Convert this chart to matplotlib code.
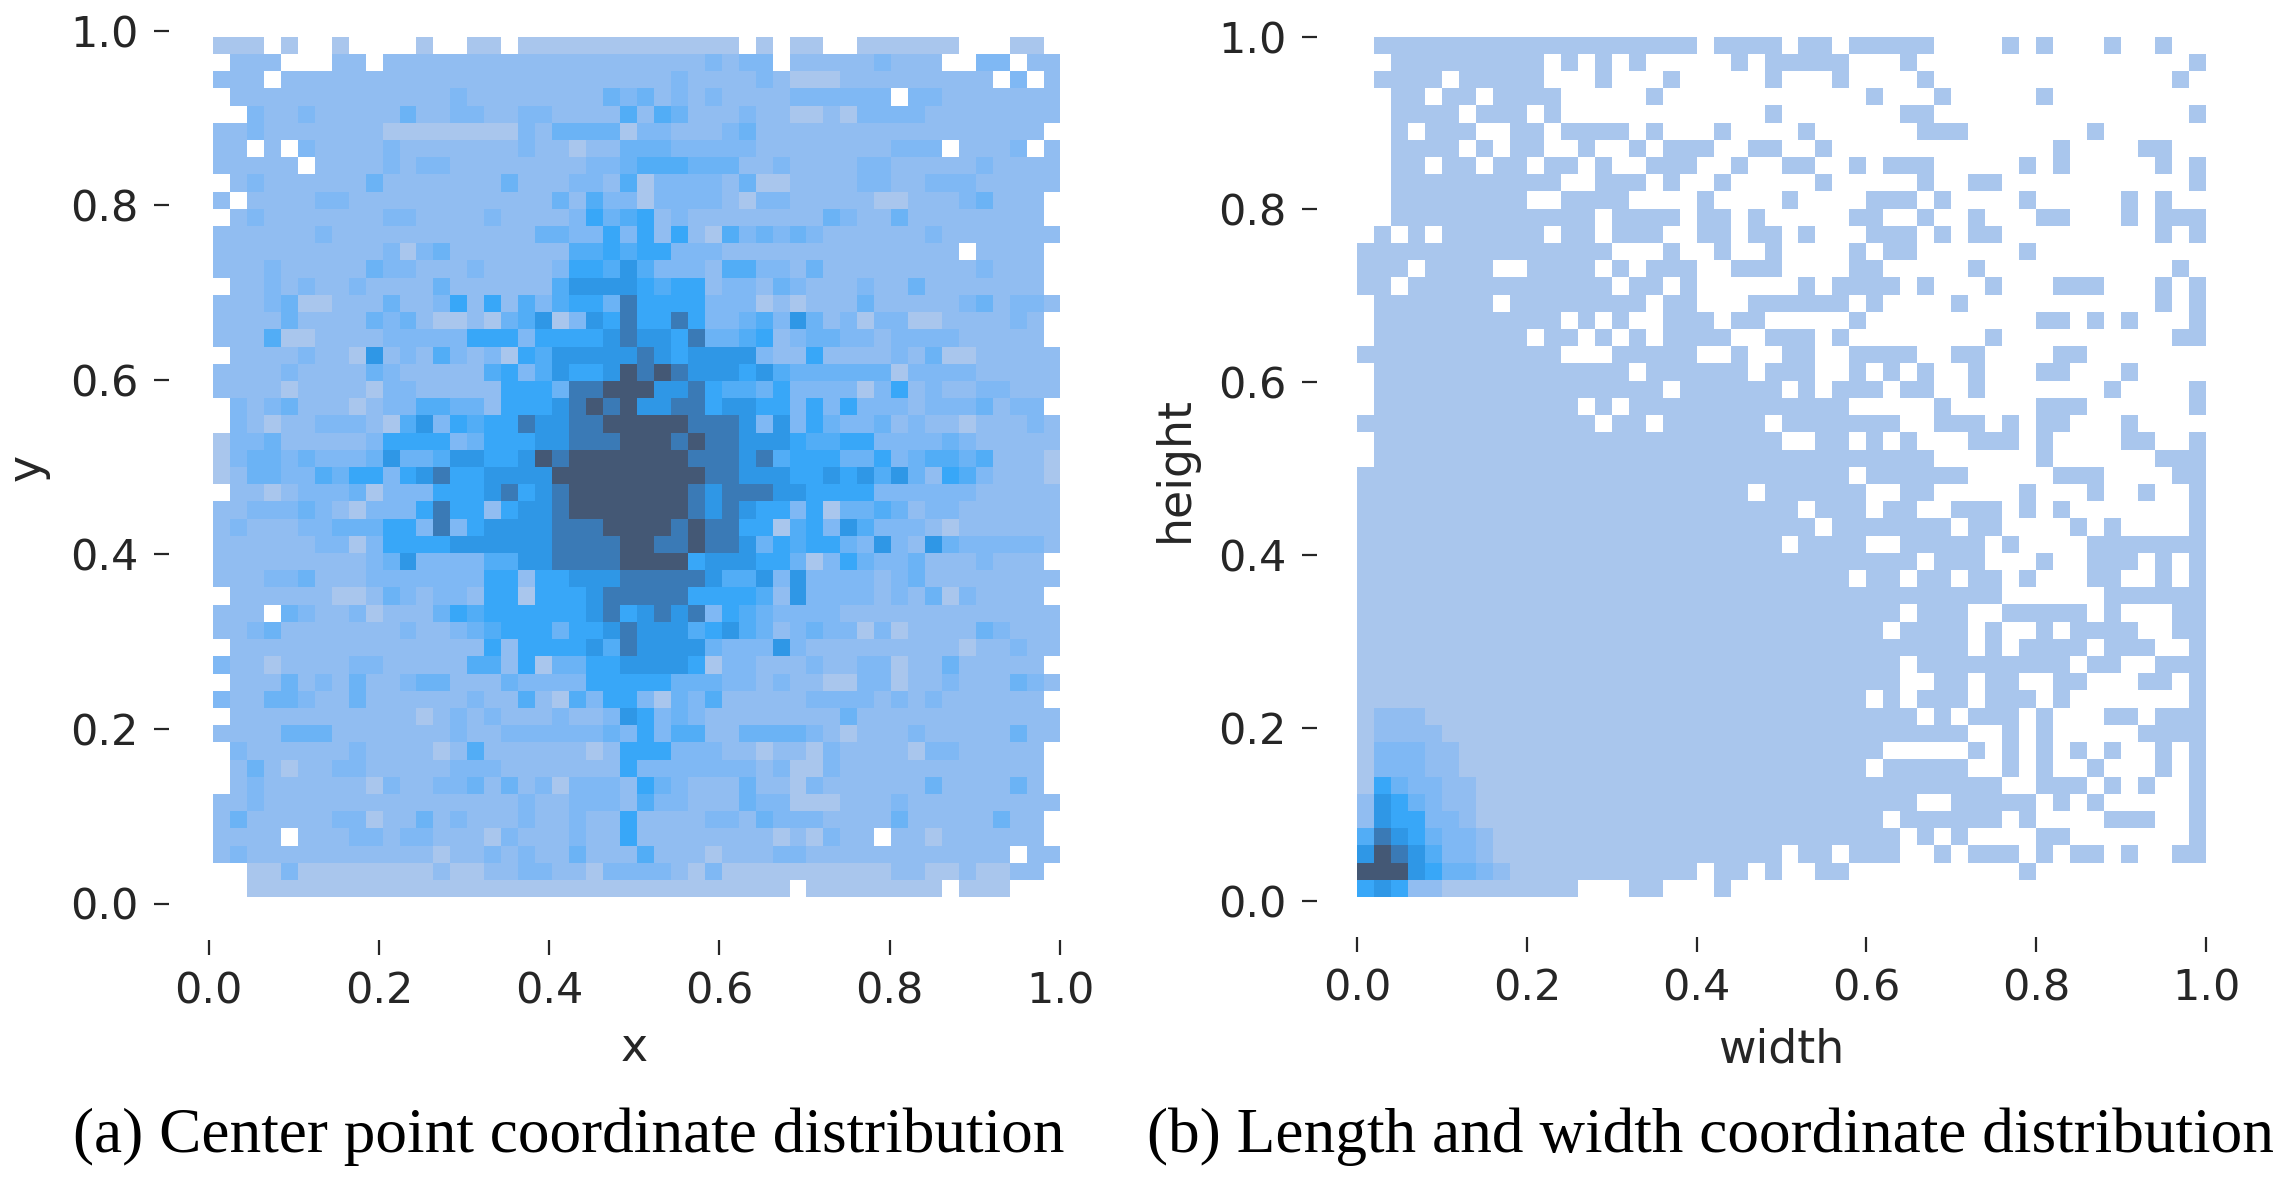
import numpy as np
import matplotlib
matplotlib.use("Agg")
import matplotlib.pyplot as plt
from matplotlib.colors import ListedColormap, BoundaryNorm

# Relative density level per histogram bin (0 = empty), top row first.
CENTER_LEVELS = [
"11101001000010011011111111 111110101100111111000110",
"02220002202222222222222222 222323302222232220033022",
"22202222222222222222222222 232222321112222222220302",
"02222222222222322222222434 232322223333330332222222",
"00322322222422332233222252 542223221121333322222222",
"22322222221111111132444413 322234222222222222222220",
"22020322223222222232212244 433333222222223330222302",
"22222022223233222222223345 554442232222332222232222",
"02322222242222222422233251 333324112222332233322222",
"20222233222222222222425331 333321332222211222342220",
"02322222223322223222236456 232222222243224222222220",
"22222232222222222224433636 262153434322222232222222",
"22222222223134222222255656 633322222222222222022220",
"22232222243322232222366575 333255332422222222232220",
"02232322322224222222577776 566233243222322422222220",
"22234112224223626253566486 666333121222422222342332",
"22224222243421121457137686 686334537423133112222320",
"22251122223333366636666787 768445623443323333222220",
"02222322172325323165777778 767777322622223241122222",
"22223222243222225635766798 987776754444441333322222",
"22221222213322222666488999 778655463333136232233222",
"03234222123355442666789897 788677663636333233342330",
"03212233321573656687788999 998887373643342322122232",
"13342222236666346667788899 989887776556633334322222",
"13443433347445776679899999 998887856664463455452221",
"12443354663678667777999999 999887776676757426532221",
"02212333413336667867899999 998788877666633333322222",
"22333432133368662677899999 998787663614454233222222",
"23222334446638367777888999 989886615637533321222222",
"22222233136666777777888899 889887465664373274333332",
"22222222234733335577888899 996777664136433422232220",
"22233422233333336626677788 888755737333323422222222",
"02222221124323326616667888 886666527333323241322220",
"22204322312224656666667867 878365433332222222222222",
"22342222222322345666466787 775675423433131222243222",
"02222222222222226266667587 777433373222222222122322",
"32212222332222255261446677 776133222322331224222220",
"02224232422344222433336666 644433232211331223222432",
"32244322422222232252153663 143522222333323232222220",
"02222222222212323222322376 343222222224222222222222",
"22224442222222322333333436 355224444321222322222422",
"03222222322221252222221266 633322122132222133222220",
"02421223322222333222222263 333333231132222222222220",
"02322222213223342423133326 432224221322222242222420",
"22322222222222222232233325 332224331112223222222222",
"24222223312242322232232262 222332433322224222224220",
"22220222332332221322232262 222222212132202212222220",
"23222222222221223232242225 222122233222222222222022",
"00113111111112112233221333 321311111111112211211220",
"00111111111111111111111111 111111110111111110111000",
]

# Occupied width bins (inclusive first, last) for each height row, top row first.
SIZE_OCCUPIED = [
[(1,19),(21,24),(26,27),(29,33),(38,38),(40,40),(44,44),(47,47)],
[(2,10),(12,12),(14,14),(16,16),(22,22),(24,28),(32,32),(49,49)],
[(1,4),(6,10),(14,14),(18,18),(24,24),(28,28),(33,33),(48,48)],
[(2,3),(5,6),(8,11),(17,17),(30,30),(34,34),(40,40)],
[(2,5),(7,9),(11,11),(24,24),(32,33),(49,49)],
[(2,2),(4,6),(9,10),(12,15),(17,17),(21,21),(26,26),(33,35),(43,43)],
[(2,5),(7,7),(9,10),(13,13),(16,16),(18,20),(23,24),(27,27),(41,41),(46,47)],
[(2,3),(5,6),(8,9),(11,12),(14,14),(17,19),(22,22),(25,26),(29,29),(31,33),(39,39),(41,41),(47,47),(49,49)],
[(2,11),(14,16),(18,18),(21,21),(27,27),(33,33),(36,37),(49,49)],
[(2,9),(12,15),(20,20),(25,25),(30,32),(34,34),(39,39),(45,45),(47,47)],
[(2,13),(15,18),(20,21),(23,23),(29,30),(33,33),(36,36),(40,41),(45,45),(47,49)],
[(1,1),(3,3),(5,10),(12,13),(15,17),(20,21),(23,24),(26,26),(30,32),(34,34),(36,37),(47,47),(49,49)],
[(0,14),(18,18),(21,21),(24,24),(29,29),(31,32),(39,39)],
[(0,2),(4,7),(10,13),(15,15),(17,19),(22,24),(29,30),(36,36),(48,48)],
[(0,1),(3,14),(16,17),(19,19),(26,26),(28,31),(33,33),(37,37),(41,43),(47,47),(49,49)],
[(1,7),(9,16),(18,19),(23,28),(30,30),(35,35),(47,47),(49,49)],
[(1,11),(13,13),(15,15),(18,20),(22,23),(29,29),(40,41),(43,43),(45,45),(49,49)],
[(1,9),(11,12),(14,14),(16,16),(18,21),(24,26),(28,28),(37,37),(48,49)],
[(0,11),(15,19),(22,22),(25,26),(29,32),(35,36),(41,42)],
[(1,15),(17,22),(24,26),(29,29),(31,31),(33,33),(36,36),(40,41),(45,45)],
[(1,17),(19,24),(26,26),(28,30),(32,33),(36,36),(44,44),(49,49)],
[(1,12),(14,14),(16,28),(34,34),(40,42),(49,49)],
[(0,13),(15,16),(18,23),(25,31),(34,36),(38,38),(40,41),(45,45)],
[(1,24),(27,28),(30,30),(32,32),(36,38),(40,40),(45,46),(49,49)],
[(1,33),(40,40),(47,49)],
[(0,28),(30,35),(41,43),(48,49)],
[(0,22),(24,29),(32,33),(39,39),(43,43),(46,46),(49,49)],
[(0,25),(27,29),(31,32),(35,37),(39,39),(41,41),(49,49)],
[(0,26),(28,34),(36,37),(42,42),(44,44),(49,49)],
[(0,24),(26,29),(32,36),(38,38),(43,46),(47,49)],
[(0,32),(34,36),(40,40),(43,45),(47,47),(49,49)],
[(0,28),(30,31),(33,34),(36,37),(39,39),(43,44),(47,47),(49,49)],
[(0,37),(44,49)],
[(0,31),(33,35),(38,42),(44,44),(48,49)],
[(0,30),(32,35),(37,37),(40,40),(42,45),(48,49)],
[(0,35),(37,37),(39,42),(44,46),(49,49)],
[(0,31),(33,41),(43,44),(47,49)],
[(0,31),(34,35),(37,38),(41,42),(46,47),(49,49)],
[(0,29),(31,31),(33,35),(37,39),(41,41),(49,49)],
[(0,32),(34,34),(36,38),(40,40),(44,45),(47,49)],
[(0,35),(38,38),(40,40),(46,49)],
[(0,30),(36,36),(38,38),(40,40),(42,42),(44,44),(47,47),(49,49)],
[(0,29),(31,35),(38,38),(40,40),(43,43),(47,47),(49,49)],
[(0,37),(40,42),(44,44),(46,46),(49,49)],
[(0,32),(35,39),(41,41),(43,43),(49,49)],
[(0,30),(32,37),(39,39),(44,46),(49,49)],
[(0,31),(33,33),(35,35),(40,41),(49,49)],
[(0,24),(26,27),(29,31),(34,34),(36,38),(40,40),(42,43),(45,45),(48,49)],
[(0,19),(21,22),(24,24),(27,28),(39,39)],
[(0,12),(16,17),(21,21)],
]

# Denser small-box corner: levels of the first bins in the lower rows.
SIZE_PEAK_ROWS = {
39: "1222111111",
40: "1222211111",
41: "1333221111",
42: "1333221111",
43: "1643322111",
44: "2764322111",
45: "2766332111",
46: "5876433211",
47: "7987533211",
48: "9997644321",
49: "6762211111",
}

TICKS = [0.0, 0.2, 0.4, 0.6, 0.8, 1.0]
TICK_LABELS = ["0.0", "0.2", "0.4", "0.6", "0.8", "1.0"]
LEVEL_COLORS = ["#a9c6ed", "#91bdf1", "#7fb8f4", "#6bb3f5", "#52adf6", "#38a7f8",
                "#2f97e6", "#3a7ab6", "#445875"]

W, H = 2286, 1179
TEXT = "#262626"

center = np.array([[int(c) for c in row.replace(" ", "").ljust(50, "0")[:50]]
                   for row in CENTER_LEVELS], dtype=float)[::-1]

size = np.zeros((50, 50))
for r, spans in enumerate(SIZE_OCCUPIED):
    for a, b in spans:
        size[r, a:b + 1] = 1
for r, s in SIZE_PEAK_ROWS.items():
    size[r, :len(s)] = [int(c) for c in s]
size = size[::-1]

cmap = ListedColormap(LEVEL_COLORS)
cmap.set_bad((1, 1, 1, 0))
norm = BoundaryNorm(np.arange(0.5, 10.5, 1), cmap.N)


def panel(box, levels, xedges, yedges, xlabel, ylabel, xpad, ypad):
    l, r, t, b = box
    ax = fig.add_axes([l / W, 1 - b / H, (r - l) / W, (b - t) / H])
    ax.pcolormesh(xedges, yedges, np.ma.masked_equal(levels, 0), cmap=cmap, norm=norm,
                  edgecolors="none", antialiased=False)
    ax.set_xlim(0, 1)
    ax.set_ylim(0, 1)
    ax.spines["left"].set_position(("outward", 28.5))
    ax.spines["bottom"].set_position(("outward", 26))
    for s in ax.spines.values():
        s.set_visible(False)
    ax.set_xticks(TICKS, TICK_LABELS)
    ax.set_yticks(TICKS, TICK_LABELS)
    ax.tick_params(length=11, width=1.6, pad=11, labelsize=31, color=TEXT, labelcolor=TEXT)
    ax.set_xlabel(xlabel, fontsize=33, color=TEXT, labelpad=xpad)
    ax.set_ylabel(ylabel, fontsize=33, color=TEXT, labelpad=ypad)
    return ax


fig = plt.figure(figsize=(W / 100, H / 100), dpi=100, facecolor="white")
panel((208.5, 1060, 30.6, 903.5), center,
      np.linspace(0.0053, 1.001, 51), np.linspace(0.0071, 0.993, 51), "x", "y", 10, 15)
panel((1357, 2206, 36.5, 901), size,
      np.linspace(0, 1, 51), np.linspace(0.0046, 1.0, 51), "width", "height", 13, 15)

fig.text(73 / W, 1 - 1152 / H, "(a) Center point coordinate distribution",
         family="Liberation Serif", fontsize=45.5, color="black", va="baseline", ha="left")
fig.text(1147 / W, 1 - 1152 / H, "(b) Length and width coordinate distribution",
         family="Liberation Serif", fontsize=45.5, color="black", va="baseline", ha="left")

fig.savefig("out.png", dpi=100, facecolor="white")
